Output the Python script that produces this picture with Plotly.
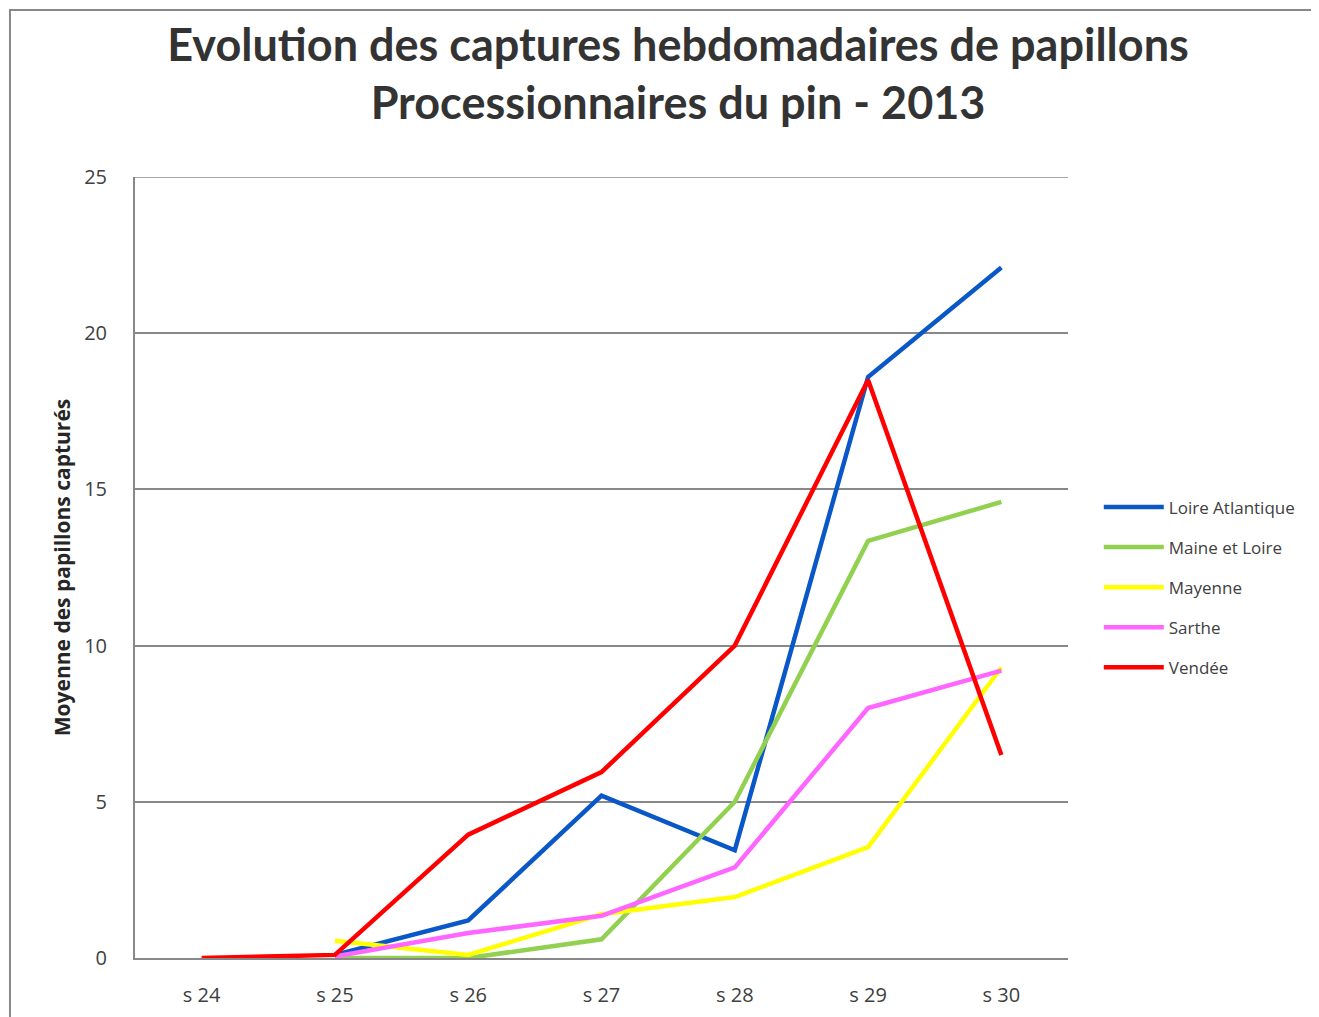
import plotly.graph_objects as go

semaines = ['s 24', 's 25', 's 26', 's 27', 's 28', 's 29', 's 30']

loire_atlantique = [None, 0.1, 1.2, 5.2, 3.45, 18.6, 22.1]
maine_et_loire = [None, 0.0, 0.0, 0.6, 5.0, 13.35, 14.6]
mayenne = [None, 0.55, 0.1, 1.4, 1.95, 3.55, 9.3]
sarthe = [None, 0.05, 0.8, 1.35, 2.9, 8.0, 9.2]
vendee = [0.0, 0.1, 3.95, 5.95, 10.0, 18.5, 6.5]

series = [
    ('Loire Atlantique', loire_atlantique, '#0a57c8'),
    ('Maine et Loire', maine_et_loire, '#92d050'),
    ('Mayenne', mayenne, '#ffff00'),
    ('Sarthe', sarthe, '#ff66ff'),
    ('Vendée', vendee, '#ff0000'),
]

fig = go.Figure()
for name, vals, color in series:
    fig.add_trace(go.Scatter(x=semaines, y=vals, mode='lines', name=name,
                             legendgroup=name,
                             line=dict(color=color, width=4.5)))

# the page body has an 8px margin, so the margins are shifted by 8
fig.update_layout(
    width=1319, height=1017,
    plot_bgcolor='white', paper_bgcolor='white',
    margin=dict(l=127, r=259, t=169, b=67),
    font=dict(family='Open Sans', size=19, color='#404040'),
    title=dict(text='<b>Evolution des captures hebdomadaires de papillons<br>Processionnaires du pin - 2013</b>',
               x=0.508, xanchor='center', y=0.948, yanchor='top',
               font=dict(family='Lato', size=45, color='#333333')),
    legend=dict(x=1.033, xanchor='left', y=0.600, yanchor='top',
                font=dict(size=17, color='#404040'), tracegroupgap=15,
                itemwidth=60, traceorder='grouped'),
    showlegend=True,
)

fig.update_xaxes(showline=True, linecolor='#888888', linewidth=2,
                 showgrid=False, ticks='', tickfont=dict(size=20),
                 ticklabelstandoff=18, range=[-0.5, 6.5])
fig.update_yaxes(range=[0, 25], dtick=5, showgrid=True, gridcolor='#888888',
                 gridwidth=1.5, showline=True, linecolor='#888888', linewidth=2,
                 zeroline=False, ticks='', ticklabelstandoff=22,
                 tickfont=dict(size=20),
                 title=dict(text='<b>Moyenne des papillons capturés</b>',
                            font=dict(size=21, color='#262626'), standoff=8))

# ligne de grille du haut (25)
fig.add_shape(type='line', xref='paper', yref='y', x0=0, x1=1, y0=25, y1=25,
              line=dict(color='#888888', width=1.5))

# cadre du graphique
fig.add_shape(type='rect', xref='paper', yref='paper',
              x0=-0.134, x1=1.3, y0=-0.2, y1=1.2138,
              line=dict(color='#888888', width=2), layer='below')

fig.write_html('out.html')
